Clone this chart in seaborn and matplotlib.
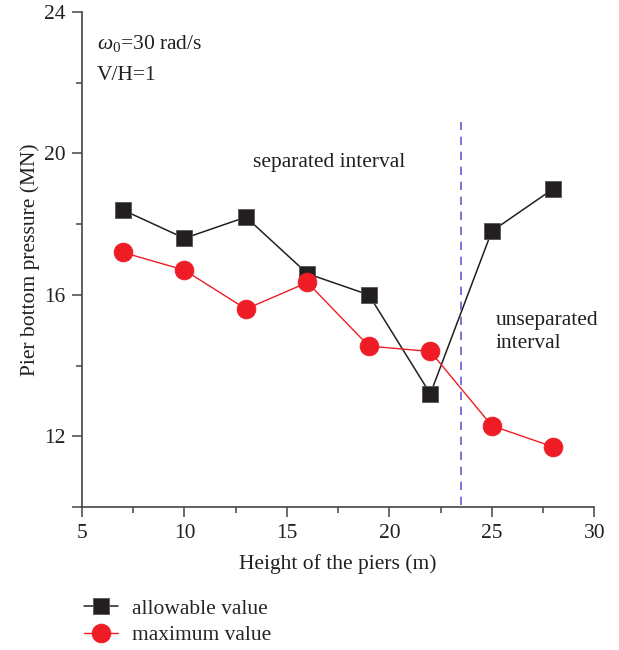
import matplotlib
matplotlib.use("Agg")
import matplotlib.pyplot as plt
import matplotlib.ticker as mticker
from matplotlib.lines import Line2D
import seaborn as sns
import pandas as pd

sns.set_theme(style="ticks")
plt.rcParams["font.family"] = ["Liberation Serif", "DejaVu Serif"]
plt.rcParams["mathtext.fontset"] = "custom"
plt.rcParams["mathtext.it"] = "Liberation Serif:italic"
plt.rcParams["mathtext.rm"] = "Liberation Serif"

# Pier heights (m) and bottom pressures (MN)
heights = [7, 10, 13, 16, 19, 22, 25, 28]
allowable = [18.4, 17.6, 18.2, 16.6, 16.0, 13.2, 17.8, 19.0]
maximum = [17.2, 16.7, 15.6, 16.35, 14.55, 14.4, 12.3, 11.7]
boundary_height = 23.5

df = pd.DataFrame({"height": heights, "allowable": allowable, "maximum": maximum})

black = "#231f20"
red = "#ee1c25"
purple = "#6a5acd"
fs = 15.5

fig = plt.figure(figsize=(6.19, 6.5), dpi=100)
ax = fig.add_axes([0.1325, 0.22, 0.8275, 0.7615])

sns.lineplot(data=df, x="height", y="allowable", ax=ax, color=black, lw=1.1,
             marker="s", markersize=11, markeredgecolor="#555555", markeredgewidth=0.6)
sns.lineplot(data=df, x="height", y="maximum", ax=ax, color=red, lw=1.0,
             marker="o", markersize=13.5, markeredgecolor=red, markeredgewidth=0.6)

ax.plot([boundary_height, boundary_height], [10.05, 20.9], ls=(0, (5, 4)),
        color=purple, lw=1.2)

ax.set_xlim(5, 30)
ax.set_ylim(10, 24)
ax.xaxis.set_major_locator(mticker.MultipleLocator(5))
ax.xaxis.set_minor_locator(mticker.MultipleLocator(2.5))
ax.yaxis.set_major_locator(mticker.FixedLocator([10, 12, 16, 20, 24]))
ax.yaxis.set_major_formatter(mticker.FixedFormatter(["", "12", "16", "20", "24"]))
ax.yaxis.set_minor_locator(mticker.FixedLocator([14, 18, 22]))

for s in ["top", "right"]:
    ax.spines[s].set_visible(False)
for s in ["left", "bottom"]:
    ax.spines[s].set_color("#444444")
    ax.spines[s].set_linewidth(1.2)

ax.tick_params(which="major", direction="out", length=7, width=1.1, color="#444444",
               labelsize=fs, labelcolor="#231f20", pad=5)
ax.tick_params(which="minor", direction="out", length=4, width=1.1, color="#444444")

ax.set_xlabel("Height of the piers (m)", fontsize=fs, color="#231f20", labelpad=8)
ax.set_ylabel("Pier bottom pressure (MN)", fontsize=fs, color="#231f20", labelpad=3)

ax.text(5.73, 23.1, r"$\omega_0$=30 rad/s", fontsize=fs, color="#231f20", va="center")
ax.text(5.73, 22.2, "V/H=1", fontsize=fs, color="#231f20", va="center")
ax.text(13.35, 19.75, "separated interval", fontsize=fs, color="#231f20", va="center")
ax.text(25.17, 14.95, "unseparated\ninterval", fontsize=fs, color="#231f20",
        va="center", linespacing=1.35)

handles = [
    Line2D([], [], color=black, lw=1.1, marker="s", markersize=11,
           markeredgecolor="#555555", markeredgewidth=0.6),
    Line2D([], [], color=red, lw=1.0, marker="o", markersize=13.5,
           markeredgecolor=red, markeredgewidth=0.6),
]
fig.legend(handles, ["allowable value", "maximum value"], loc="upper left",
           bbox_to_anchor=(0.135, 0.079), frameon=False, fontsize=fs,
           handlelength=1.6, handletextpad=0.65, labelspacing=0.3,
           borderaxespad=0, borderpad=0)

fig.savefig("out.png", dpi=100)
